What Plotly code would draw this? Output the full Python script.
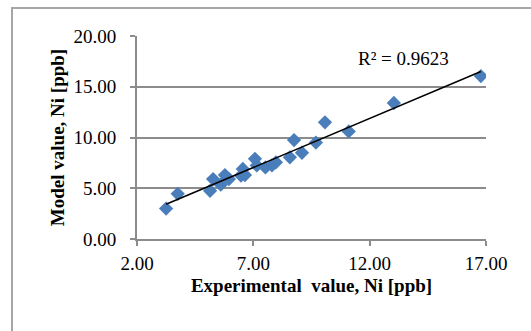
import numpy as np
import plotly.graph_objects as go

experimental = [3.25, 3.75, 5.14, 5.27, 5.60, 5.78, 5.95, 6.47, 6.55, 6.64, 7.07, 7.15,
                7.52, 7.80, 7.97, 8.57, 8.75, 9.09, 9.69, 10.08, 11.10, 13.04, 16.78]
model = [3.00, 4.45, 4.75, 5.90, 5.35, 6.30, 5.90, 6.25, 6.90, 6.30, 7.90, 7.25,
         7.05, 7.25, 7.55, 8.05, 9.75, 8.50, 9.50, 11.50, 10.60, 13.40, 16.05]
r2_label = "R² = 0.9623"
x_ticks = [2, 7, 12, 17]
y_ticks = [0, 5, 10, 15, 20]

slope, intercept = np.polyfit(experimental, model, 1)
x_line = [min(experimental), max(experimental)]
y_line = [slope * v + intercept for v in x_line]

fig = go.Figure()
fig.add_trace(go.Scatter(x=experimental, y=model, mode="markers",
                         marker=dict(symbol="diamond", size=11, color="#4a7ebb",
                                     line=dict(width=0)), showlegend=False))
fig.add_trace(go.Scatter(x=x_line, y=y_line, mode="lines",
                         line=dict(color="black", width=1.5), showlegend=False))

font = "Liberation Serif, Times New Roman, serif"
fig.update_layout(
    width=531, height=331,
    margin=dict(l=137, r=45, t=36, b=92),
    paper_bgcolor="white", plot_bgcolor="white",
    font=dict(family=font, size=19, color="black"),
    xaxis=dict(range=[2, 17], tickvals=x_ticks, ticktext=[f"{v:.2f}" for v in x_ticks],
               showgrid=False, zeroline=False, showline=True, linecolor="#8c8c8c",
               linewidth=2, ticks="outside", ticklen=5, tickcolor="#8c8c8c", tickwidth=2,
               tickfont=dict(size=19), ticklabelstandoff=1,
               title=dict(text="<b>Experimental  value, Ni [ppb]</b>", standoff=6,
                          font=dict(size=19))),
    yaxis=dict(range=[0, 20], tickvals=y_ticks, ticktext=[f"{v:.2f}" for v in y_ticks],
               showgrid=True, gridcolor="#8c8c8c", gridwidth=2, zeroline=False,
               showline=True, linecolor="#8c8c8c", linewidth=2,
               ticks="outside", ticklen=5, tickcolor="#8c8c8c", tickwidth=2,
               tickfont=dict(size=19), ticklabelstandoff=10,
               title=dict(text="<b>Model value, Ni [ppb]</b>", standoff=4,
                          font=dict(size=19))),
    annotations=[dict(text=r2_label, x=(451 - 137) / 349, y=(239 - 58) / 203,
                      xref="paper", yref="paper",
                      xanchor="right", yanchor="middle", showarrow=False,
                      font=dict(size=19))],
    shapes=[dict(type="rect", xref="paper", yref="paper",
                 x0=(12 - 137) / 349, x1=(540 - 137) / 349,
                 y0=(239 - 340) / 203, y1=(239 - 8) / 203,
                 line=dict(color="#a6a6a6", width=2), layer="below")],
)
fig.write_html("out.html")
